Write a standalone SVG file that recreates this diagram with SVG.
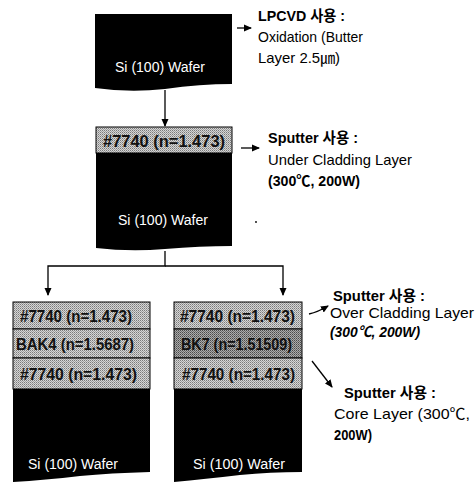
<svg xmlns="http://www.w3.org/2000/svg" width="476" height="483" viewBox="0 0 476 483">
<style>
.t{font-family:"Liberation Sans","Noto Sans CJK KR",sans-serif;font-size:15px;fill:#000}
.b{font-weight:bold}
.w{font-family:"Liberation Sans",sans-serif;font-size:14px;fill:#fff}
.g{font-family:"Liberation Sans",sans-serif;font-size:16px;font-weight:bold;fill:#111}
.ln{stroke:#000;stroke-width:1.3;fill:none}
.bx{stroke:#000;stroke-width:1}
</style>
<defs>
<pattern id="p1" width="2" height="2" patternUnits="userSpaceOnUse">
<rect width="2" height="2" fill="#d6d6d6"/><rect width="1" height="1" fill="#7a7a7a"/><rect x="1" y="1" width="1" height="1" fill="#a0a0a0"/>
</pattern>
<pattern id="p2" width="2" height="2" patternUnits="userSpaceOnUse">
<rect width="2" height="2" fill="#acacac"/><rect width="1" height="1" fill="#4a4a4a"/><rect x="1" y="1" width="1" height="1" fill="#6e6e6e"/>
</pattern>
<marker id="ah" markerWidth="8" markerHeight="8" refX="7" refY="4" orient="auto" markerUnits="userSpaceOnUse">
<path d="M0,0.5 L8,4 L0,7.5 Z" fill="#000"/>
</marker>
</defs>

<g id="connectors">
<line class="ln" x1="237" y1="28" x2="251" y2="28" marker-end="url(#ah)"/>
<line class="ln" x1="165" y1="90" x2="165" y2="126" marker-end="url(#ah)"/>
<line class="ln" x1="241" y1="148" x2="259" y2="148" marker-end="url(#ah)"/>
<polyline class="ln" points="165,251 165,266 48,266 48,295" marker-end="url(#ah)"/>
<polyline class="ln" points="165,266 283,266 283,295" marker-end="url(#ah)"/>
<path class="ln" d="M309,314 Q318,312 328,306" marker-end="url(#ah)"/>
<line class="ln" x1="312" y1="361" x2="332" y2="387" marker-end="url(#ah)"/>
</g>

<g id="wafer1">
<path d="M95,14 H232 V84 Q200,84 165,89 Q130,93 95,88 Z" fill="#000"/>
<text class="w" x="115" y="72" textLength="90" lengthAdjust="spacingAndGlyphs">Si (100) Wafer</text>
</g>

<g id="wafer2">
<path d="M96,153 H232 V246 Q200,246 165,249 Q130,252 96,248 Z" fill="#000"/>
<rect class="bx" x="96" y="127" width="136" height="26" fill="url(#p1)"/>
<text class="g" x="103" y="147" textLength="122" lengthAdjust="spacingAndGlyphs">#7740 (n=1.473)</text>
<text class="w" x="118" y="225" textLength="90" lengthAdjust="spacingAndGlyphs">Si (100) Wafer</text>
</g>

<g id="waferA">
<path d="M13,389 H150 V472 Q110,473 80,476 Q45,480 13,482 Z" fill="#000"/>
<rect class="bx" x="13" y="302" width="137" height="27" fill="url(#p1)"/>
<rect class="bx" x="13" y="329" width="137" height="29" fill="url(#p1)"/>
<rect class="bx" x="13" y="358" width="137" height="31" fill="url(#p1)"/>
<text class="g" x="20" y="322" textLength="112" lengthAdjust="spacingAndGlyphs">#7740 (n=1.473)</text>
<text class="g" x="16" y="350" textLength="118" lengthAdjust="spacingAndGlyphs">BAK4 (n=1.5687)</text>
<text class="g" x="20" y="380" textLength="117" lengthAdjust="spacingAndGlyphs">#7740 (n=1.473)</text>
<text class="w" x="28" y="469" textLength="90" lengthAdjust="spacingAndGlyphs">Si (100) Wafer</text>
</g>

<g id="waferB">
<path d="M174,389 H302 V472 Q270,472 240,475 Q205,479 174,482 Z" fill="#000"/>
<rect class="bx" x="174" y="302" width="128" height="27" fill="url(#p1)"/>
<rect class="bx" x="174" y="329" width="128" height="29" fill="url(#p2)"/>
<rect class="bx" x="174" y="358" width="128" height="31" fill="url(#p1)"/>
<text class="g" x="180" y="322" textLength="115" lengthAdjust="spacingAndGlyphs">#7740 (n=1.473)</text>
<text class="g" x="181" y="350" textLength="111" lengthAdjust="spacingAndGlyphs">BK7 (n=1.51509)</text>
<text class="g" x="182" y="380" textLength="113" lengthAdjust="spacingAndGlyphs">#7740 (n=1.473)</text>
<text class="w" x="193" y="469" textLength="92" lengthAdjust="spacingAndGlyphs">Si (100) Wafer</text>
</g>

<g id="note1">
<text class="t b" x="258" y="21" textLength="87" lengthAdjust="spacingAndGlyphs">LPCVD 사용 :</text>
<text class="t" x="258" y="42" textLength="105" lengthAdjust="spacingAndGlyphs">Oxidation (Butter</text>
<text class="t" x="258" y="63" textLength="82" lengthAdjust="spacingAndGlyphs">Layer 2.5㎛)</text>
</g>

<g id="note2">
<text class="t b" x="268" y="143" textLength="90" lengthAdjust="spacingAndGlyphs">Sputter 사용 :</text>
<text class="t" x="268" y="165" textLength="144" lengthAdjust="spacingAndGlyphs">Under Cladding Layer</text>
<text class="t b" x="268" y="186" textLength="92" lengthAdjust="spacingAndGlyphs">(300℃, 200W)</text>
</g>

<circle cx="256" cy="222" r="0.9" fill="#000"/>

<g id="note3">
<text class="t b" x="333" y="301" textLength="92" lengthAdjust="spacingAndGlyphs">Sputter 사용 :</text>
<text class="t" x="330" y="318" textLength="144" lengthAdjust="spacingAndGlyphs">Over Cladding Layer</text>
<text class="t b" x="330" y="337" textLength="90" lengthAdjust="spacingAndGlyphs" font-style="italic">(300℃, 200W)</text>
</g>

<g id="note4">
<text class="t b" x="344" y="398" textLength="92" lengthAdjust="spacingAndGlyphs">Sputter 사용 :</text>
<text class="t" x="334" y="419" textLength="136" lengthAdjust="spacingAndGlyphs">Core Layer (300℃,</text>
<text class="t b" x="334" y="440" textLength="38" lengthAdjust="spacingAndGlyphs">200W)</text>
</g>
</svg>
